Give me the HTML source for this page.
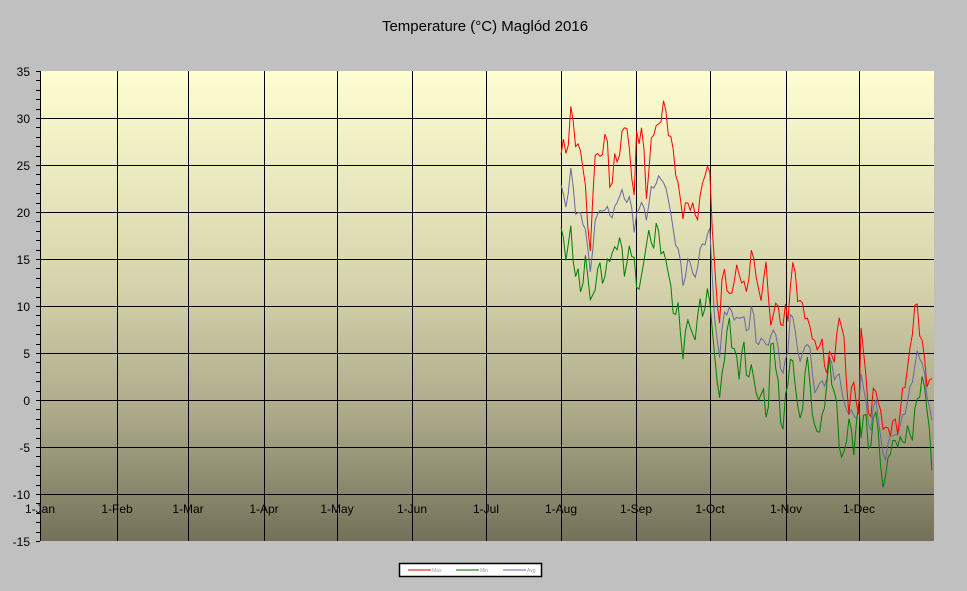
<!DOCTYPE html>
<html><head><meta charset="utf-8"><style>
html,body{margin:0;padding:0;background:#c0c0c0;width:967px;height:591px;overflow:hidden}
svg{display:block;font-family:"Liberation Sans",sans-serif}
</style></head><body>
<svg id="s" width="967" height="591" xmlns="http://www.w3.org/2000/svg">
<defs><linearGradient id="g" x1="0" y1="0" x2="0" y2="1">
<stop offset="0" stop-color="#fefed2"/><stop offset="0.45" stop-color="#d6d4ac"/><stop offset="0.75" stop-color="#a8a686"/><stop offset="1" stop-color="#737158"/></linearGradient></defs>
<text x="485" y="31" font-size="15" text-anchor="middle" fill="#000">Temperature (°C) Maglód 2016</text>
<rect x="40" y="71" width="894" height="470" fill="url(#g)"/>
<g id="grid" stroke="#000" stroke-width="1"></g>
<g id="lab" font-size="12" fill="#000"></g>
<g id="ser" fill="none" stroke-width="1"></g>
<rect x="399.5" y="563.5" width="142" height="13" fill="#fff" stroke="#000" stroke-width="1.5"/>
<line x1="408" y1="570" x2="431" y2="570" stroke="#e00000"/>
<text x="432" y="572" font-size="5" fill="#999">Max</text>
<line x1="456" y1="570" x2="479" y2="570" stroke="#006400"/>
<text x="480" y="572" font-size="5" fill="#999">Min</text>
<line x1="503" y1="570" x2="526" y2="570" stroke="#6868a0"/>
<text x="527" y="572" font-size="5" fill="#999">Avg</text>
</svg>
<script>
var NS="http://www.w3.org/2000/svg";
function el(p,t,a,txt){var e=document.createElementNS(NS,t);for(var k in a)e.setAttribute(k,a[k]);if(txt!=null)e.textContent=txt;document.getElementById(p).appendChild(e);return e;}
function Y(t){return 400-t*9.4;}
for(var v=-15;v<=35;v+=5){var y=Y(v);
 if(v>-15&&v<35)el("grid","line",{x1:40,x2:934,y1:y+0.5,y2:y+0.5});
 el("lab","text",{x:30,y:y+5,"text-anchor":"end"},String(v));}
for(var v=-15;v<=35;v++){var y=Math.round(Y(v))+0.5;el("grid","line",{x1:36,x2:40,y1:y,y2:y});}
el("grid","line",{x1:40.5,x2:40.5,y1:71,y2:541});
var mx=[40,117,188,264,337,412,486,561,636,710,786,859,934];
var mn=["1-Jan","1-Feb","1-Mar","1-Apr","1-May","1-Jun","1-Jul","1-Aug","1-Sep","1-Oct","1-Nov","1-Dec"];
for(var i=1;i<12;i++)el("grid","line",{x1:mx[i]+0.5,x2:mx[i]+0.5,y1:71,y2:541});
for(var i=0;i<12;i++)el("lab","text",{x:mx[i],y:513,"text-anchor":"middle"},mn[i]);
var MAX=[[27,26,31,27,27,21,16,28,25,29,22,26,27,30,25,19],[28,29,22,28,29,31,30,26,23,19,22,19,21,24,25],[23,13,9,14,11,12,15,11,13,16,12,11,15,6,12,7,10],[5,14,13,10,9,8,5,7,3,5,4,10,5,-1,2,-2],[11,3,-2,2,-3,-3,-3,-2,2,6,11,5,2,1.5]];
var MIN=[[19,15,18,13,12,15,10,13,14,13,16,16,17,13,17,14],[11,13,17,17,18,16,14,10,9,5,9,6,10,10,11],[12,4,0,5,8,6,2,7,1,5,-2,3,-4,8,3,-3,0],[-2,6,1,-3,4,2,-4,-3,0,4,1,-5,-6,-2,-5,-1],[-4,-1,-6,0,-7,-9,-4,-5,-4,-4,-3,0,3,-3,-9]];
function f(arr,x){var m=7;for(var k=0;k<5;k++){if(x<=mx[m+k+1]||k==4){var a=arr[k],x0=mx[m+k],x1=mx[m+k+1];var p=(x-x0)/(x1-x0)*(a.length-1);var i=Math.max(0,Math.min(a.length-2,Math.floor(p)));var t=p-i;return a[i]*(1-t)+a[i+1]*t;}}}
function pts(fn){var s=[];for(var x=561;x<=934;x+=2.44){s.push(x.toFixed(1)+","+Y(fn(x)).toFixed(1));}return s.join(" ");}
var j=function(x){return Math.sin(x*1.7)*0.8+Math.sin(x*0.63)*0.6;};
el("ser","polyline",{points:pts(function(x){return (f(MAX,x)+f(MIN,x))/2+j(x)*0.4;}),stroke:"#6868a0"});
el("ser","polyline",{points:pts(function(x){return f(MIN,x)+j(x+3);}),stroke:"#008000"});
el("ser","polyline",{points:pts(function(x){return f(MAX,x)+j(x+7);}),stroke:"#ff0000"});
</script>
</body></html>
